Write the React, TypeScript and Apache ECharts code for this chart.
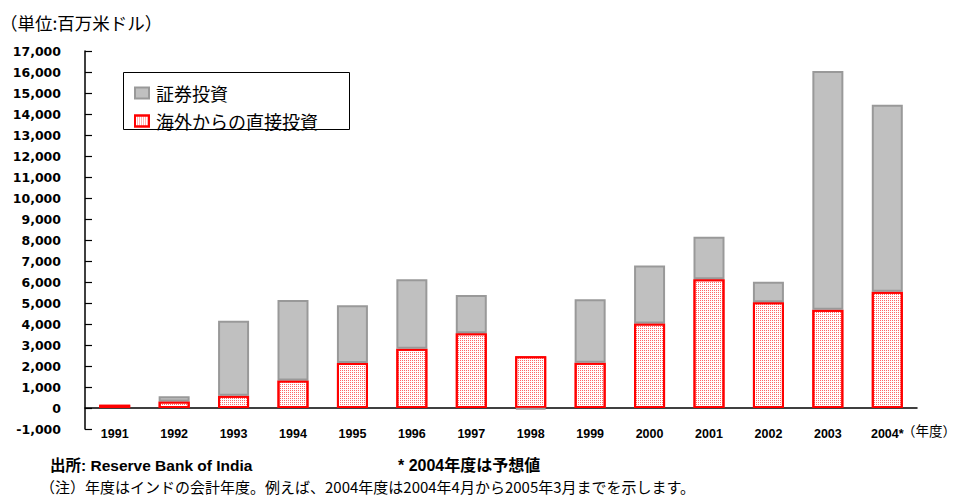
import React, { useEffect, useRef } from "react";
import * as echarts from "echarts";

const categories = ["1991", "1992", "1993", "1994", "1995", "1996", "1997", "1998", "1999", "2000", "2001", "2002", "2003", "2004*"];
const portfolio = [null, 244, 3567, 3824, 2748, 3312, 1828, -61, 3026, 2760, 2021, 979, 11377, 8909];
const fdi = [160, 315, 586, 1314, 2144, 2821, 3557, 2462, 2155, 4029, 6130, 5035, 4673, 5535];
const seriesNames = ["証券投資", "海外からの直接投資"];
const unitText = "（単位:百万米ドル）";
const yearUnitText = "（年度）";
const sourceText = "出所: Reserve Bank of India";
const forecastText = "* 2004年度は予想値";
const noteText = "（注）年度はインドの会計年度。例えば、2004年度は2004年4月から2005年3月までを示します。";

export default function App() {
  const ref = useRef<HTMLDivElement>(null);
  useEffect(() => {
    const chart = echarts.init(ref.current!, null, { renderer: "svg" });
    chart.setOption({
      animation: false,
      backgroundColor: "#fff",
      grid: { left: 85, right: 41, top: 51, bottom: 68 },
      legend: {
        orient: "vertical",
        left: 129,
        top: 79,
        icon: "rect",
        itemWidth: 14,
        itemHeight: 11,
        itemGap: 10,
        data: seriesNames,
        textStyle: { fontSize: 18, lineHeight: 18, color: "#000", fontFamily: "'Noto Sans CJK JP', sans-serif", padding: [0, 0, 0, 2] },
      },
      xAxis: [
        {
          type: "category",
          data: categories,
          position: "bottom",
          axisLine: { onZero: true, lineStyle: { color: "#000", width: 1.5 } },
          axisTick: { inside: true, length: 6, lineStyle: { color: "#000", width: 1.2 } },
          axisLabel: { show: false },
        },
        {
          type: "category",
          data: categories,
          position: "bottom",
          axisLine: { show: false, onZero: false },
          axisTick: { show: false },
          axisLabel: { color: "#000", fontWeight: "bold", fontSize: 12.5, fontFamily: "'Liberation Sans', Arial, sans-serif", margin: -2 },
        },
      ],
      yAxis: {
        type: "value",
        min: -1000,
        max: 17000,
        interval: 1000,
        axisLine: { show: true, onZero: false, lineStyle: { color: "#000", width: 1.5 } },
        axisTick: { show: true, inside: true, length: 7, lineStyle: { color: "#000", width: 1.2 } },
        splitLine: { show: false },
        axisLabel: {
          color: "#000",
          fontWeight: "bold",
          fontSize: 12.5,
          fontFamily: "'DejaVu Sans', sans-serif",
          margin: 24,
          formatter: (v: number) => v.toLocaleString("en-US"),
        },
      },
      series: [
        {
          name: seriesNames[1],
          type: "bar",
          stack: "total",
          xAxisIndex: 0,
          barWidth: 31,
          data: fdi,
          itemStyle: {
            color: "#fff",
            borderColor: "#ff0000",
            borderWidth: 2,
            decal: {
              symbol: "rect",
              symbolSize: 1,
              color: "rgba(255,40,40,0.7)",
              backgroundColor: "#fff",
              dashArrayX: [1, 1],
              dashArrayY: [1, 1],
              rotation: 0,
            },
          },
        },
        {
          name: seriesNames[0],
          type: "bar",
          stack: "total",
          xAxisIndex: 0,
          barWidth: 31,
          data: portfolio,
          itemStyle: { color: "#c0c0c0", borderColor: "#999", borderWidth: 2 },
        },
      ],
      graphic: [
        { type: "rect", shape: { x: 123.5, y: 72.5, width: 226, height: 57 }, style: { fill: "none", stroke: "#000", lineWidth: 1 } },
        { type: "text", x: 0, y: 22, style: { text: unitText, fontSize: 17.5, fill: "#000", fontFamily: "'Noto Sans CJK JP', sans-serif", verticalAlign: "middle" } },
        { type: "text", x: 902, y: 430, style: { text: yearUnitText, fontSize: 13.5, fill: "#000", fontFamily: "'Noto Sans CJK JP', sans-serif", verticalAlign: "middle" } },
        { type: "text", x: 50, y: 465, style: { text: sourceText, fontSize: 15.5, fontWeight: "bold", fill: "#000", fontFamily: "'Liberation Sans', 'Noto Sans CJK JP', sans-serif", verticalAlign: "middle" } },
        { type: "text", x: 398, y: 465, style: { text: forecastText, fontSize: 16, fontWeight: "bold", fill: "#000", fontFamily: "'Liberation Sans', 'Noto Sans CJK JP', sans-serif", verticalAlign: "middle" } },
        { type: "text", x: 40, y: 486, style: { text: noteText, fontSize: 15, fill: "#000", fontFamily: "'Liberation Sans Narrow', 'Noto Sans CJK JP', sans-serif", verticalAlign: "middle" } },
      ],
    });
    return () => chart.dispose();
  }, []);
  return <div ref={ref} style={{ position: "fixed", left: 0, top: 0, width: 958, height: 497, background: "#fff" }} />;
}
